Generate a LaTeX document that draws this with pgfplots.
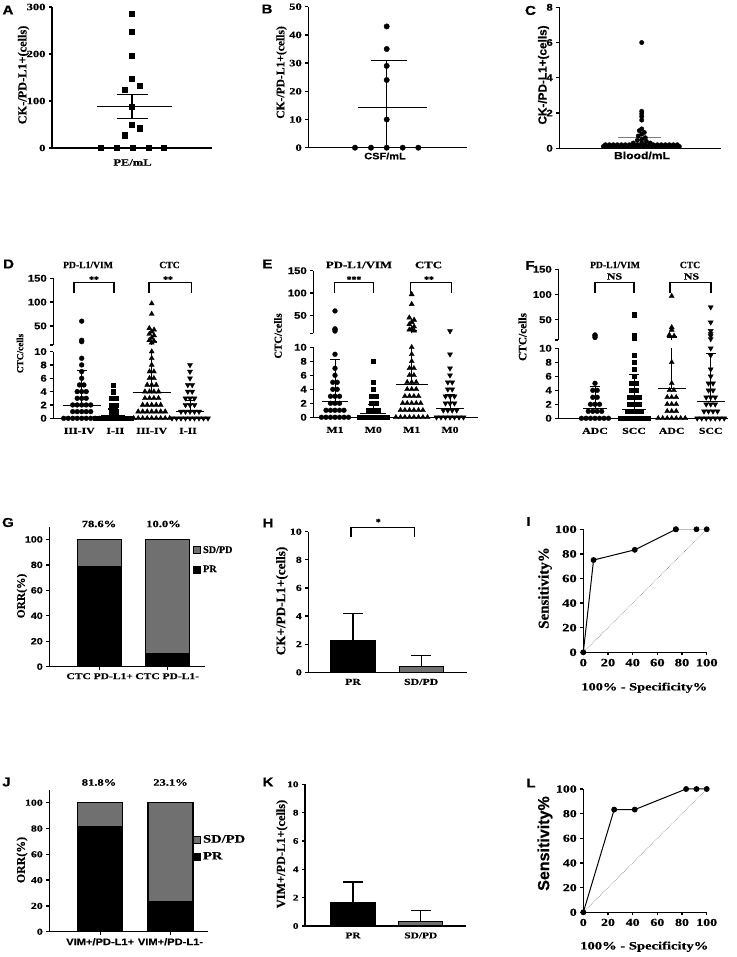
\documentclass[border=0pt]{standalone}
\usepackage{fontspec}
\setmainfont{Liberation Serif}
\newfontfamily\srn{Liberation Serif Bold}[FakeBold=0.5]
\newfontfamily\srw{Liberation Serif Bold}[FakeStretch=1.3,FakeBold=0.5]
\newfontfamily\ssn{Liberation Sans Bold}[FakeBold=0.5]
\newfontfamily\ssw{Liberation Sans Bold}[FakeStretch=1.18,FakeBold=0.5]
\usepackage{pgfplots}
\pgfplotsset{compat=1.18}
\definecolor{sdgray}{RGB}{112,112,112}
\newcommand\SN[1]{\srn\fontsize{\fpeval{1.07*#1}}{\fpeval{1.07*#1}}\selectfont}
\newcommand\SW[1]{\srw\fontsize{\fpeval{1.07*#1}}{\fpeval{1.07*#1}}\selectfont}
\newcommand\AN[1]{\ssn\fontsize{\fpeval{1.07*#1}}{\fpeval{1.07*#1}}\selectfont}
\newcommand\AW[1]{\ssw\fontsize{\fpeval{1.07*#1}}{\fpeval{1.07*#1}}\selectfont}
\pgfplotsset{
 gp/.style={scale only axis, enlargelimits=false, clip=false, anchor=south west,
   axis x line*=bottom, axis y line*=left,
   axis line style={line width=1.3pt,-},
   tick style={line width=1.3pt,black},
   tick align=outside, major tick length=3pt,
   /pgf/number format/assume math mode=true},
 up/.style={gp, axis x line=none, xtick=\empty},
 circ/.style={only marks, mark=*, mark size=2.4pt, black},
 sq/.style={only marks, mark=square*, mark size=2.2pt, black},
 tri/.style={only marks, mark=triangle*, mark size=2.9pt, black},
 itri/.style={only marks, mark=triangle*, mark size=2.9pt, black, mark options={rotate=180}},
 ml/.style={black, line width=1.2pt, no marks},
 sl/.style={black, line width=0.8pt, no marks},
 sqleg/.style={legend image code/.code={\draw[##1, line width=0.9pt] (0pt,-3.5pt) rectangle (7pt,3.5pt);}},
 bb/.style={ybar, bar width=44pt, bar shift=0pt, draw=black, line width=1.3pt,
   error bars/y dir=plus, error bars/y explicit,
   error bars/error bar style={line width=1.3pt, black},
   error bars/error mark options={rotate=90, mark size=10pt, line width=1.3pt, black}},
 dx/.style={xticklabel style={font=\SW{8.5}, yshift=-3pt}, xtick style={draw=none}},
}
\begin{document}
\begin{tikzpicture}[x=1pt,y=1pt,t/.style={inner sep=0pt}]
\useasboundingbox (0,0) rectangle (736,957);

% ---------------- A ----------------
\begin{axis}[gp, at={(52pt,809pt)}, width=160pt, height=141pt,
  xmin=0, xmax=160, ymin=0, ymax=300, ytick={0,100,200,300}, xtick=\empty,
  yticklabel style={font=\SW{9}}]
\addplot[only marks, mark=square*, mark size=2.6pt, black] coordinates {
(80,285)(80,247)(80,196)(80,147)(72.3,124)(88,132)(80,87)(80,49)(88,42)(72.3,27)
(48.7,0)(64.7,0)(80.3,0)(96.3,0)(111.3,0)};
\addplot[ml] coordinates {(44.7,88)(119.7,88)};
\addplot[ml] coordinates {(64.7,113)(96.3,113)};
\addplot[ml] coordinates {(64.7,63)(96.3,63)};
\addplot[ml] coordinates {(80,63)(80,113)};
\end{axis}
\node[t, font=\SW{9}] at (132.5,794.5) {PE/mL};
\node[t, rotate=90, font=\SN{11.5}] at (23.5,882) {CK-/PD-L1+(cells)};
\node[t, font=\AW{12}] at (8,947) {A};

% ---------------- B ----------------
\begin{axis}[gp, at={(308.3pt,809.3pt)}, width=158.4pt, height=141pt,
  xmin=0, xmax=158.4, ymin=0, ymax=50, ytick={0,10,20,30,40,50}, xtick=\empty,
  yticklabel style={font=\SW{9}}]
\addplot[only marks, mark=*, mark size=2.7pt, black] coordinates {
(78.4,43)(78.4,35)(78.4,29)(78.4,24)(78.4,10)(46.7,0)(62.7,0)(78.4,0)(94.4,0)(110,0)};
\addplot[ml] coordinates {(50,14.2)(118.4,14.2)};
\addplot[ml] coordinates {(62.7,31)(98.4,31)};
\addplot[ml] coordinates {(78.4,0)(78.4,31)};
\end{axis}
\node[t, font=\AW{8.7}] at (385,801) {CSF/mL};
\node[t, rotate=90, font=\SN{10.8}] at (281.5,884.5) {CK-/PD-L1+(cells)};
\node[t, font=\AW{12}] at (267,948) {B};

% ---------------- C ----------------
\begin{axis}[gp, at={(559.3pt,808.7pt)}, width=161.7pt, height=141pt,
  xmin=0, xmax=161.7, ymin=0, ymax=8, ytick={0,2,4,6,8}, xtick=\empty,
  yticklabel style={font=\AW{9}}]
\addplot[only marks, mark=*, mark size=2.2pt, black] coordinates {
(44,0.1)(48,0.1)(52,0.1)(56,0.1)(60,0.1)(64,0.1)(68,0.1)(72,0.1)(76,0.1)(80,0.1)
(84,0.1)(88,0.1)(92,0.1)(96,0.1)(100,0.1)(104,0.1)(108,0.1)(112,0.1)(116,0.1)(120,0.1)
(46,0.2)(50,0.2)(54,0.2)(58,0.2)(62,0.2)(66,0.2)(70,0.2)(74,0.2)(78,0.2)(82,0.2)
(86,0.2)(90,0.2)(94,0.2)(98,0.2)(102,0.2)(106,0.2)(110,0.2)(114,0.2)(118,0.2)
(82.4,6)(82.4,2.1)(82.4,1.95)(82.4,1.8)(82.4,1.6)(82.4,1.1)(80,1)(85,0.9)(82.4,0.8)
(79,0.7)(86,0.6)(82.4,0.5)(78,0.45)(87,0.4)(74,0.3)(82.4,0.3)(91,0.3)};
\addplot[gray, line width=0.7pt, no marks] coordinates {(58.4,0.6)(101.4,0.6)};
\end{axis}
\node[t, font=\AW{9.6}] at (642,801.5) {Blood/mL};
\node[t, rotate=90, font=\AN{11}] at (543.5,882) {CK-/PD-L1+(cells)};
\node[t, font=\AW{12}] at (530.5,946.5) {C};

% ---------------- D ----------------
\begin{axis}[gp, dx, at={(53.3pt,538.7pt)}, width=153.7pt, height=66.7pt,
  xmin=0, xmax=153.7, ymin=0, ymax=10, ytick={0,2,4,6,8,10},
  yticklabel style={font=\AW{9}},
  xtick={26,62,98.4,134.7}, xticklabels={III-IV,I-II,III-IV,I-II}]
\addplot[circ] coordinates {
(10.4,0)(14.9,0)(19.4,0)(23.9,0)(28.4,0)(32.9,0)(37.4,0)(41.9,0)(46.4,0)
(19.4,1)(23.9,1)(28.4,1)(32.9,1)(37.4,1)
(19.4,2)(23.9,2)(28.4,2)(32.9,2)(37.4,2)
(23.9,3)(28.4,3)(32.9,3)(23.9,4)(28.4,4)(32.9,4)
(26.2,5)(30.6,5)(28.4,6)(28.4,7)(28.4,8)(28.4,9)};
\addplot[sq] coordinates {
(42,0)(46.5,0)(51,0)(55.5,0)(60,0)(64.5,0)(69,0)(73.5,0)(78,0)
(57.8,1)(62.2,1)(57.8,2)(62.2,2)(57.8,3)(62.2,3)(60,4)(60,5)};
\addplot[tri] coordinates {
(80.4,0)(84.9,0)(89.4,0)(93.9,0)(98.4,0)(102.9,0)(107.4,0)(111.9,0)(116.4,0)
(84.9,1)(89.4,1)(93.9,1)(98.4,1)(102.9,1)(107.4,1)(111.9,1)
(89.4,2)(93.9,2)(98.4,2)(102.9,2)(107.4,2)
(91.6,3)(96.2,3)(100.6,3)(105.2,3)(91.6,4)(96.2,4)(100.6,4)(105.2,4)
(93.9,5)(98.4,5)(102.9,5)(96.2,6)(100.6,6)(96.2,7)(100.6,7)
(98.4,8)(98.4,9)(98.4,10)};
\addplot[itri] coordinates {
(118.7,0)(123.2,0)(127.7,0)(132.2,0)(136.7,0)(141.2,0)(145.7,0)(150.2,0)(154.7,0)
(127.7,1)(132.2,1)(136.7,1)(141.2,1)(145.7,1)
(132.2,2)(136.7,2)(141.2,2)(132.2,3)(136.7,3)(141.2,3)
(134.5,4)(138.9,4)(134.5,5)(138.9,5)(136.7,6)(136.7,7)(136.7,8)};
\addplot[ml] coordinates {(9.4,1.9)(47.4,1.9)};
\addplot[ml] coordinates {(23.4,7.2)(33.4,7.2)};
\addplot[sl] coordinates {(28.4,1.9)(28.4,7.2)};
\addplot[ml] coordinates {(48,0.4)(72,0.4)};
\addplot[ml] coordinates {(55,1.4)(65,1.4)};
\addplot[sl] coordinates {(60,0.4)(60,1.4)};
\addplot[ml] coordinates {(79.4,3.9)(117.4,3.9)};
\addplot[sl] coordinates {(98.4,3.9)(98.4,10)};
\addplot[ml] coordinates {(122.7,1.0)(150.7,1.0)};
\addplot[ml] coordinates {(131.7,2.7)(141.7,2.7)};
\addplot[sl] coordinates {(136.7,1.0)(136.7,2.7)};
\end{axis}
\begin{axis}[up, at={(53.3pt,612pt)}, width=153.7pt, height=66.7pt,
  xmin=0, xmax=153.7, ymin=10, ymax=150, ytick={10,50,100,150},
  yticklabels={,50,100,150}, yticklabel style={font=\AW{9}}]
\addplot[circ] coordinates {(28.4,60)(28.4,20)(28.4,17)};
\addplot[tri] coordinates {(98.4,97)(98.4,75)(96,45)(100.8,42)(98.4,38)(96,33)(100.8,30)(98.4,25)(96,20)(100.8,18)(98.4,15)};
\addplot[ml] coordinates {(93.4,17)(103.4,17)};
\addplot[sl] coordinates {(98.4,10)(98.4,17)};
\end{axis}
\node[t, font=\SN{9}] at (88,692) {PD-L1/VIM};
\node[t, font=\SN{9}] at (169.5,692) {CTC};
\draw[line width=1.2pt] (74,663.7) -- (74,674.3) -- (114,674.3) -- (114,663.7);
\draw[line width=1.2pt] (149,663.7) -- (149,674.3) -- (191.7,674.3) -- (191.7,663.7);
\node[t, font=\SN{9}] at (94,677.5) {**};
\node[t, font=\SN{9}] at (168,677.5) {**};
\node[t, rotate=90, font=\SN{8.7}] at (20,603.5) {CTC/cells};
\node[t, font=\AW{12}] at (8.5,693) {D};

% ---------------- E ----------------
\begin{axis}[gp, dx, at={(313.3pt,539.7pt)}, width=164.7pt, height=70pt,
  xmin=0, xmax=164.7, ymin=0, ymax=10, ytick={0,2,4,6,8,10},
  yticklabel style={font=\AW{9}},
  xtick={21.7,60,98.4,136.7}, xticklabels={M1,M0,M1,M0}]
\addplot[circ] coordinates {
(8.2,0)(12.7,0)(17.2,0)(21.7,0)(26.2,0)(30.7,0)(35.2,0)
(12.7,1)(17.2,1)(21.7,1)(26.2,1)(30.7,1)
(17.2,2)(21.7,2)(26.2,2)(17.2,3)(21.7,3)(26.2,3)
(19.5,4)(23.9,4)(19.5,5)(23.9,5)(21.7,6)(21.7,7)(21.7,9)};
\addplot[sq] coordinates {
(46.5,0)(51,0)(55.5,0)(60,0)(64.5,0)(69,0)(73.5,0)
(55.5,1)(60,1)(64.5,1)(57.8,2)(62.2,2)(57.8,3)(62.2,3)(60,4)(60,5)(60,8)};
\addplot[tri] coordinates {
(82.6,0)(87.2,0)(91.6,0)(96.2,0)(100.6,0)(105.2,0)(109.6,0)(114.2,0)
(87.2,1)(91.6,1)(96.2,1)(100.6,1)(105.2,1)(109.6,1)
(89.4,2)(93.9,2)(98.4,2)(102.9,2)(107.4,2)
(91.6,3)(96.2,3)(100.6,3)(105.2,3)
(93.9,4)(98.4,4)(102.9,4)(93.9,5)(98.4,5)(102.9,5)
(96.2,6)(100.6,6)(96.2,7)(100.6,7)(98.4,8)(98.4,9)(98.4,10)};
\addplot[itri] coordinates {
(123.2,0)(127.7,0)(132.2,0)(136.7,0)(141.2,0)(145.7,0)(150.2,0)
(130,1)(134.5,1)(138.9,1)(143.4,1)
(132.2,2)(136.7,2)(141.2,2)(132.2,3)(136.7,3)(141.2,3)
(134.5,4)(138.9,4)(134.5,5)(138.9,5)(136.7,6)(136.7,7)(136.7,9)};
\addplot[ml] coordinates {(8.7,2.3)(34.7,2.3)};
\addplot[ml] coordinates {(16.7,8.3)(26.7,8.3)};
\addplot[sl] coordinates {(21.7,2.3)(21.7,8.3)};
\addplot[ml] coordinates {(47,0.5)(73,0.5)};
\addplot[ml] coordinates {(55,1.8)(65,1.8)};
\addplot[sl] coordinates {(60,0.5)(60,1.8)};
\addplot[ml] coordinates {(82.4,4.7)(114.4,4.7)};
\addplot[sl] coordinates {(98.4,4.7)(98.4,10)};
\addplot[ml] coordinates {(122.7,1.3)(150.7,1.3)};
\addplot[ml] coordinates {(131.7,3.3)(141.7,3.3)};
\addplot[sl] coordinates {(136.7,1.3)(136.7,3.3)};
\end{axis}
\begin{axis}[up, at={(313.3pt,623.7pt)}, width=164.7pt, height=62.6pt,
  xmin=0, xmax=164.7, ymin=10, ymax=150, ytick={10,50,100,150},
  yticklabels={,50,100,150}, yticklabel style={font=\AW{9}}]
\addplot[circ] coordinates {(21.7,60)(21.7,20)(21.7,18)(21.7,15)};
\addplot[tri] coordinates {(98.4,97)(98.4,75)(96,45)(100.8,40)(98.4,35)(96,30)(100.8,25)(98.4,20)(96,18)(100.8,16)};
\addplot[itri] coordinates {(136.7,15)};
\addplot[ml] coordinates {(93.4,17)(103.4,17)};
\addplot[sl] coordinates {(98.4,10)(98.4,17)};
\end{axis}
\node[t, font=\SW{9.2}] at (359,692) {PD-L1/VIM};
\node[t, font=\SW{9.2}] at (428.5,692) {CTC};
\draw[line width=1.2pt] (334.3,663.7) -- (334.3,674.7) -- (373.3,674.7) -- (373.3,663.7);
\draw[line width=1.2pt] (410.7,663.7) -- (410.7,674.7) -- (451.7,674.7) -- (451.7,663.7);
\node[t, font=\SN{9}] at (354,677.5) {***};
\node[t, font=\SN{9}] at (429,677.5) {**};
\node[t, rotate=90, font=\SN{10}] at (278,621) {CTC/cells};
\node[t, font=\AW{12}] at (267.5,693) {E};

% ---------------- F ----------------
\begin{axis}[gp, dx, at={(558.3pt,538.7pt)}, width=169.7pt, height=70pt,
  xmin=0, xmax=169.7, ymin=0, ymax=10, ytick={0,2,4,6,8,10},
  yticklabel style={font=\AW{9}},
  xtick={36.7,75.7,113.4,152.4}, xticklabels={ADC,SCC,ADC,SCC}]
\addplot[circ] coordinates {
(23.2,0)(27.7,0)(32.2,0)(36.7,0)(41.2,0)(45.7,0)(50.2,0)
(30,1)(34.5,1)(38.9,1)(43.4,1)(32.2,2)(36.7,2)(41.2,2)
(34.5,3)(38.9,3)(34.5,4)(38.9,4)(36.7,5)};
\addplot[sq] coordinates {
(62.2,0)(66.7,0)(71.2,0)(75.7,0)(80.2,0)(84.7,0)(89.2,0)
(69,1)(73.5,1)(77.9,1)(82.4,1)(71.2,2)(75.7,2)(80.2,2)
(71.2,3)(75.7,3)(80.2,3)(73.5,4)(77.9,4)(73.5,5)(77.9,5)
(75.7,6)(75.7,7)(75.7,8)(75.7,9)};
\addplot[tri] coordinates {
(99.9,0)(104.4,0)(108.9,0)(113.4,0)(117.9,0)(122.4,0)(126.9,0)
(108.9,1)(113.4,1)(117.9,1)(108.9,2)(113.4,2)(117.9,2)
(108.9,3)(113.4,3)(117.9,3)(111.2,4)(115.6,4)(113.4,5)(113.4,8)};
\addplot[itri] coordinates {
(138.9,0)(143.4,0)(147.9,0)(152.4,0)(156.9,0)(161.4,0)(165.9,0)
(145.7,1)(150.2,1)(154.7,1)(159.2,1)(147.9,2)(152.4,2)(156.9,2)
(147.9,3)(152.4,3)(156.9,3)(150.2,4)(154.7,4)(150.2,5)(154.7,5)
(152.4,6)(152.4,7)(152.4,9)(152.4,10)};
\addplot[ml] coordinates {(24.7,1.4)(48.7,1.4)};
\addplot[ml] coordinates {(31.7,4.5)(41.7,4.5)};
\addplot[sl] coordinates {(36.7,1.4)(36.7,4.5)};
\addplot[ml] coordinates {(63.7,1.3)(87.7,1.3)};
\addplot[ml] coordinates {(70.7,6.2)(80.7,6.2)};
\addplot[sl] coordinates {(75.7,1.3)(75.7,6.2)};
\addplot[ml] coordinates {(99.4,4.3)(127.4,4.3)};
\addplot[sl] coordinates {(113.4,4.3)(113.4,10)};
\addplot[ml] coordinates {(138.4,2.4)(166.4,2.4)};
\addplot[ml] coordinates {(147.4,9.2)(157.4,9.2)};
\addplot[sl] coordinates {(152.4,2.4)(152.4,9.2)};
\end{axis}
\begin{axis}[up, at={(558.3pt,617pt)}, width=169.7pt, height=70.7pt,
  xmin=0, xmax=169.7, ymin=10, ymax=150, ytick={10,50,100,150},
  yticklabels={,50,100,150}, yticklabel style={font=\AW{9}}]
\addplot[circ] coordinates {(36.7,20)(36.7,18)(36.7,15)};
\addplot[sq] coordinates {(75.7,60)(75.7,20)(75.7,18)(75.7,15)(75.7,13)};
\addplot[tri] coordinates {(113.4,97)(113.4,35)(113.4,30)(111,20)(115.8,18)};
\addplot[itri] coordinates {(152.4,75)(152.4,45)(152.4,28)(152.4,22)(152.4,18)(152.4,12)};
\addplot[ml] coordinates {(108.4,16)(118.4,16)};
\addplot[sl] coordinates {(113.4,10)(113.4,16)};
\end{axis}
\node[t, font=\SN{9}] at (615,692) {PD-L1/VIM};
\node[t, font=\SN{9}] at (690,692) {CTC};
\node[t, font=\SW{8.6}] at (614.5,680.5) {NS};
\node[t, font=\SW{8.6}] at (691.5,680.5) {NS};
\draw[line width=1.2pt] (595,663.7) -- (595,674.7) -- (634,674.7) -- (634,663.7);
\draw[line width=1.2pt] (670,663.7) -- (670,674.7) -- (711,674.7) -- (711,663.7);
\node[t, rotate=90, font=\SN{10.6}] at (522.5,620) {CTC/cells};
\node[t, font=\AW{12}] at (530,691.5) {F};

% ---------------- G ----------------
\begin{axis}[gp, at={(49.3pt,290.3pt)}, width=155.7pt, height=140pt,
  xmin=0, xmax=155.7, ymin=0, ymax=110, ytick={0,20,40,60,80,100},
  yticklabel style={font=\AW{8.5}},
  xtick={50.4,117.9}, xticklabels={CTC PD-L1+,CTC PD-L1-},
  xticklabel style={font=\SW{8.3}},
  ybar stacked, bar width=44pt,
  reverse legend, legend cell align=left,
  legend style={at={(0.923,0.876)}, anchor=north west, draw=none, fill=none,
    font=\SN{9.5}, row sep=7pt, inner sep=0pt}]
\addplot[fill=black, draw=black, line width=1.3pt, sqleg] coordinates {(50.4,78.6)(117.9,10.0)};
\addplot[fill=sdgray, draw=black, line width=1.3pt, sqleg] coordinates {(50.4,21.4)(117.9,90.0)};
\legend{PR,SD/PD}
\end{axis}
\node[t, font=\SW{9}] at (99,433) {78.6\%};
\node[t, font=\SW{9}] at (163.5,433) {10.0\%};
\node[t, rotate=90, font=\SN{10.7}] at (22,361) {ORR(\%)};
\node[t, font=\AW{12}] at (8,434.5) {G};

% ---------------- H ----------------
\begin{axis}[gp, at={(308.3pt,284.7pt)}, width=158.4pt, height=140.6pt,
  xmin=0, xmax=158.4, ymin=0, ymax=10, ytick={0,2,4,6,8,10},
  yticklabel style={font=\SW{8.5}},
  xtick={44.7,112.9}, xticklabels={PR,SD/PD}, xticklabel style={font=\SW{8.5}},
  xtick style={draw=none}]
\addplot[bb, fill=black] coordinates {(44.7,2.25) +- (0,1.95)};
\addplot[bb, fill=sdgray] coordinates {(112.9,0.4) +- (0,0.8)};
\end{axis}
\draw[line width=1.2pt] (351,420.3) -- (351,429.7) -- (414.3,429.7) -- (414.3,420.3);
\node[t, font=\SN{9}] at (378.3,435) {*};
\node[t, rotate=90, font=\SN{12.3}] at (282,356) {CK+/PD-L1+(cells)};
\node[t, font=\AW{12}] at (268,434) {H};

% ---------------- I ----------------
\begin{axis}[gp, at={(583.3pt,304.7pt)}, width=123.4pt, height=123pt,
  xmin=0, xmax=100, ymin=0, ymax=100, xtick={0,20,40,60,80,100}, ytick={0,20,40,60,80,100},
  ticklabel style={font=\SW{10.5}}]
\addplot[gray, densely dotted, line width=0.6pt, no marks] coordinates {(0,0)(100,100)};
\addplot[gray!50, line width=1pt, mark=*, mark size=2.4pt, mark options={fill=black, draw=black}] coordinates {(75,100)(91.7,100)(100,100)};
\addplot[black, line width=1pt, mark=*, mark size=2.4pt] coordinates {(0,0)(8.3,75)(41.7,83.3)(75,100)};
\end{axis}
\node[t, font=\SW{10.3}] at (644.3,269.3) {100\% - Specificity\%};
\node[t, rotate=90, font=\SN{14}] at (545,369) {Sensitivity\%};
\node[t, font=\AW{12}] at (528.5,435.5) {I};

% ---------------- J ----------------
\begin{axis}[gp, at={(49.3pt,25.3pt)}, width=158.7pt, height=141.9pt,
  xmin=0, xmax=158.7, ymin=0, ymax=110, ytick={0,20,40,60,80,100},
  yticklabel style={font=\SW{8.5}},
  xtick={50.9,121.2}, xticklabels={VIM+/PD-L1+,VIM+/PD-L1-},
  xticklabel style={font=\AW{8.8}},
  ybar stacked, bar width=45pt,
  reverse legend, legend cell align=left,
  legend style={at={(0.905,0.696)}, anchor=north west, draw=none, fill=none,
    font=\SW{10.5}, row sep=4pt, inner sep=0pt}]
\addplot[fill=black, draw=black, line width=1.3pt, sqleg] coordinates {(50.9,81.8)(121.2,23.1)};
\addplot[fill=sdgray, draw=black, line width=1.3pt, sqleg] coordinates {(50.9,18.2)(121.2,76.9)};
\legend{PR,SD/PD}
\end{axis}
\node[t, font=\SW{9}] at (99,174.5) {81.8\%};
\node[t, font=\SW{9}] at (170.5,174.5) {23.1\%};
\node[t, rotate=90, font=\SN{11.1}] at (22,97) {ORR(\%)};
\node[t, font=\AW{12}] at (6.5,175) {J};

% ---------------- K ----------------
\begin{axis}[gp, at={(305pt,31pt)}, width=160.7pt, height=141.7pt,
  xmin=0, xmax=160.7, ymin=0, ymax=10, ytick={0,2,4,6,8,10},
  yticklabel style={font=\SW{8}},
  xtick={48,115.8}, xticklabels={PR,SD/PD}, xticklabel style={font=\SW{8.2}},
  xtick style={draw=none}]
\addplot[bb, fill=black] coordinates {(48,1.65) +- (0,1.45)};
\addplot[bb, fill=sdgray] coordinates {(115.8,0.3) +- (0,0.8)};
\end{axis}
\node[t, rotate=90, font=\SN{11.5}] at (282,103) {VIM+/PD-L1+(cells)};
\node[t, font=\AW{12}] at (268,175) {K};

% ---------------- L ----------------
\begin{axis}[gp, at={(583.3pt,44.7pt)}, width=123.4pt, height=123.3pt,
  xmin=0, xmax=100, ymin=0, ymax=100, xtick={0,20,40,60,80,100}, ytick={0,20,40,60,80,100},
  ticklabel style={font=\SW{10}}]
\addplot[gray, densely dotted, line width=0.6pt, no marks] coordinates {(0,0)(100,100)};
\addplot[black, line width=1pt, mark=*, mark size=2.4pt] coordinates {(0,0)(25,83.3)(41.7,83.3)(83.3,100)(91.7,100)(100,100)};
\end{axis}
\node[t, font=\SW{10.5}] at (644.3,10.3) {100\% - Specificity\%};
\node[t, rotate=90, font=\AN{15}] at (545,113.5) {Sensitivity\%};
\node[t, font=\AW{12}] at (531,174) {L};
\end{tikzpicture}
\end{document}
